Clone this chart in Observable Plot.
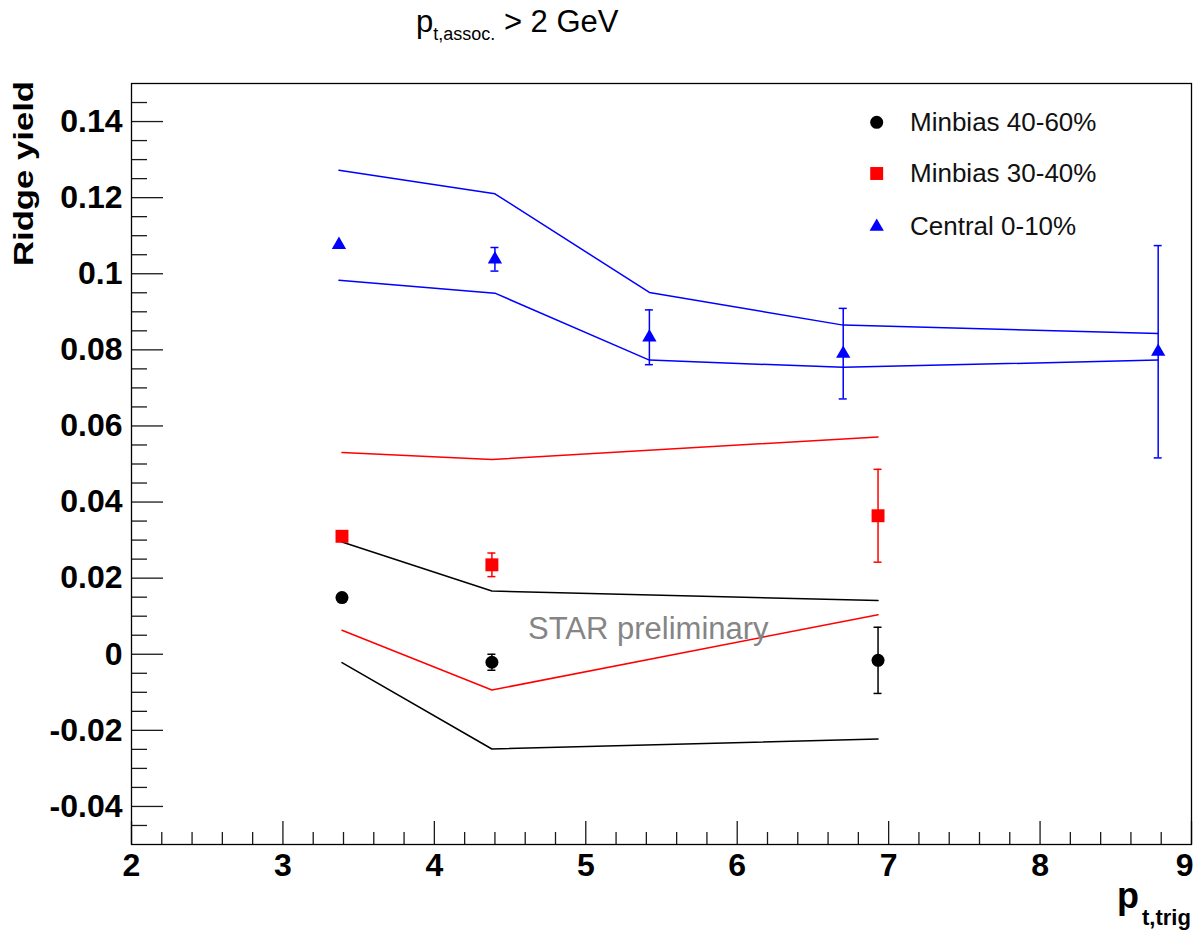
<!DOCTYPE html>
<html>
<head>
<meta charset="utf-8">
<script src="https://cdn.jsdelivr.net/npm/d3@7"></script>
<script src="https://cdn.jsdelivr.net/npm/@observablehq/plot@0.6"></script>
<style>
html, body { margin: 0; padding: 0; background: #fff; }
#wrap { position: relative; width: 1195px; height: 931px; overflow: hidden;
  font-family: "Liberation Sans", Arial, Helvetica, sans-serif; }
#wrap svg.overlay { position: absolute; left: 0; top: 0; pointer-events: none; }
#wrap g[aria-label="y-axis tick label"] { font: bold 32px "Liberation Sans", Arial, sans-serif; }
#wrap g[aria-label="x-axis tick label"] { font: bold 32px "Liberation Sans", Arial, sans-serif; }
</style>
</head>
<body>
<div id="wrap"></div>
<script>
// ---------------- data ----------------
// Minbias 40-60% (black circles)
const mb4060X     = [3.39, 4.38, 6.93];
const mb4060Y     = [0.0149, -0.0021, -0.0016];
const mb4060Err   = [0, 0.0021, 0.0087];
const mb4060BandX = [3.39, 4.38, 6.93];
const mb4060BandHi = [0.0295, 0.0166, 0.0141];
const mb4060BandLo = [-0.0022, -0.0249, -0.0223];

// Minbias 30-40% (red squares)
const mb3040X     = [3.39, 4.38, 6.93];
const mb3040Y     = [0.0310, 0.0235, 0.0364];
const mb3040Err   = [0, 0.0031, 0.0122];
const mb3040BandX = [3.39, 4.38, 6.93];
const mb3040BandHi = [0.0530, 0.0512, 0.0571];
const mb3040BandLo = [0.0063, -0.0094, 0.0104];

// Central 0-10% (blue triangles)
const centX     = [3.37, 4.40, 5.42, 6.70, 8.78];
const centY     = [0.1076, 0.1038, 0.0833, 0.0790, 0.0795];
const centErr   = [0, 0.0031, 0.0072, 0.0119, 0.0279];
const centBandX = [3.37, 4.40, 5.42, 6.70, 8.78];
const centBandHi = [0.1272, 0.1210, 0.0951, 0.0865, 0.0843];
const centBandLo = [0.0983, 0.0949, 0.0773, 0.0754, 0.0773];

// axes
const xDomain = [2, 9];
const yDomain = [-0.05, 0.15];
const xTickValues = [2, 3, 4, 5, 6, 7, 8, 9];
const xTickLabels = ["2", "3", "4", "5", "6", "7", "8", "9"];
const yTickValues = [-0.04, -0.02, 0, 0.02, 0.04, 0.06, 0.08, 0.1, 0.12, 0.14];
const yTickLabels = ["-0.04", "-0.02", "0", "0.02", "0.04", "0.06", "0.08", "0.1", "0.12", "0.14"];
const seriesNames = ["Minbias 40-60%", "Minbias 30-40%", "Central 0-10%"];
const seriesColors = ["#000000", "#ff0000", "#0000ff"];
const seriesSymbols = ["circle", "square", "triangle"];

// ---------------- build tables ----------------
function pts(xs, ys, es) {
  return xs.map((x, i) => ({x, y: ys[i], lo: ys[i] - es[i], hi: ys[i] + es[i], e: es[i]}));
}
function band(xs, his, los) {
  return xs.map((x, i) => ({x, hi: his[i], lo: los[i]}));
}
const series = [
  {pts: pts(mb4060X, mb4060Y, mb4060Err), band: band(mb4060BandX, mb4060BandHi, mb4060BandLo)},
  {pts: pts(mb3040X, mb3040Y, mb3040Err), band: band(mb3040BandX, mb3040BandHi, mb3040BandLo)},
  {pts: pts(centX, centY, centErr), band: band(centBandX, centBandHi, centBandLo)}
];
const dotR = {circle: 6.5, square: 7.3, triangle: 5.3};

const xLabelMap = new Map(xTickValues.map((v, i) => [v, xTickLabels[i]]));
const yLabelMap = new Map(yTickValues.map((v, i) => [v, yTickLabels[i]]));
const yMinor = d3.range(-9, 30).filter(i => i % 4 !== 0).map(i => i * 0.005);
const xMinor = d3.range(10, 46).filter(i => i % 5 !== 0).map(i => i * 0.2);

// ---------------- layout ----------------
const W = 1195, H = 931;
const mL = 131, mR = 4, mT = 83, mB = 87;
const innerW = W - mL - mR, innerH = H - mT - mB;
const tickColor = "#1a1a1a";
const lastX = xTickValues[xTickValues.length - 1];

const marks = [
  Plot.tickY(yMinor, {stroke: tickColor, strokeWidth: 1.3, insetRight: innerW - 16}),
  Plot.tickY(yTickValues, {stroke: tickColor, strokeWidth: 1.3, insetRight: innerW - 32}),
  Plot.tickX(xMinor, {stroke: tickColor, strokeWidth: 1.3, insetTop: innerH - 12}),
  Plot.tickX(xTickValues, {stroke: tickColor, strokeWidth: 1.3, insetTop: innerH - 23}),
  Plot.axisY(yTickValues, {tickSize: 0, tickPadding: 9, tickFormat: d => yLabelMap.get(d),
    fontSize: 32, fontWeight: "bold", label: null}),
  Plot.axisX(xTickValues.filter(v => v !== lastX), {tickSize: 0, tickPadding: 9, tickFormat: d => xLabelMap.get(d),
    fontSize: 32, fontWeight: "bold", label: null}),
  // the last label sits at the right edge: anchor it so it stays inside the picture
  Plot.axisX([lastX], {tickSize: 0, tickPadding: 9, tickFormat: d => xLabelMap.get(d), textAnchor: "end", dx: 2,
    fontSize: 32, fontWeight: "bold", label: null})
];
series.forEach((s, k) => {
  const c = seriesColors[k];
  marks.push(Plot.line(s.band, {x: "x", y: "hi", stroke: c, strokeWidth: 1.5}));
  marks.push(Plot.line(s.band, {x: "x", y: "lo", stroke: c, strokeWidth: 1.5}));
});
series.forEach((s, k) => {
  const c = seriesColors[k];
  const withErr = s.pts.filter(d => d.e > 0);
  marks.push(Plot.ruleX(withErr, {x: "x", y1: "lo", y2: "hi", stroke: c, strokeWidth: 1.5}));
  marks.push(Plot.ruleY(withErr, {y: "hi", x1: "x", x2: "x", insetLeft: -4, insetRight: -4, stroke: c, strokeWidth: 1.5}));
  marks.push(Plot.ruleY(withErr, {y: "lo", x1: "x", x2: "x", insetLeft: -4, insetRight: -4, stroke: c, strokeWidth: 1.5}));
  marks.push(Plot.dot(s.pts, {x: "x", y: "y", symbol: seriesSymbols[k], r: dotR[seriesSymbols[k]], fill: c, stroke: "none"}));
});
marks.push(Plot.frame({stroke: "#000", strokeWidth: 1.3}));

const chart = Plot.plot({
  width: W, height: H,
  marginLeft: mL, marginRight: mR, marginTop: mT, marginBottom: mB,
  x: {domain: xDomain},
  y: {domain: yDomain},
  style: {background: "white", color: "black", fontFamily: '"Liberation Sans", Arial, sans-serif'},
  marks
});
const wrap = document.getElementById("wrap");
wrap.appendChild(chart);

// ---------------- overlay: titles, legend, watermark ----------------
const ov = d3.create("svg").attr("class", "overlay").attr("width", W).attr("height", H)
  .style("font-family", '"Liberation Sans", Arial, Helvetica, sans-serif');

// top title
const t = ov.append("text").attr("x", 416).attr("y", 32).attr("font-size", 31).attr("fill", "#000");
t.append("tspan").text("p");
t.append("tspan").attr("font-size", 18).attr("dy", 8).text("t,assoc.");
t.append("tspan").attr("dy", -8).text(" > 2 GeV");

// y title
ov.append("text").attr("transform", "translate(33,81) rotate(-90)")
  .attr("text-anchor", "end").attr("font-weight", "bold").attr("font-size", 27)
  .attr("textLength", 185).attr("lengthAdjust", "spacingAndGlyphs")
  .text("Ridge yield");

// x title
const xt = ov.append("text").attr("x", 1117).attr("y", 908).attr("font-weight", "bold").attr("font-size", 36);
xt.append("tspan").text("p");
xt.append("tspan").attr("font-size", 22).attr("dy", 17).attr("dx", 3).text("t,trig");

// watermark
ov.append("text").attr("x", 528).attr("y", 639).attr("font-size", 31).attr("fill", "#858585")
  .text("STAR preliminary");

// legend
const legY = [122.3, 173.5, 226.7];
seriesNames.forEach((name, k) => {
  const sym = {circle: d3.symbolCircle, square: d3.symbolSquare, triangle: d3.symbolTriangle}[seriesSymbols[k]];
  const r = dotR[seriesSymbols[k]];
  ov.append("path").attr("transform", `translate(876.7,${legY[k]})`)
    .attr("d", d3.symbol(sym, r * r * Math.PI)()).attr("fill", seriesColors[k]);
  ov.append("text").attr("x", 910).attr("y", legY[k] + 8.6).attr("font-size", 26).attr("fill", "#111")
    .text(name);
});
wrap.appendChild(ov.node());
</script>
</body>
</html>
